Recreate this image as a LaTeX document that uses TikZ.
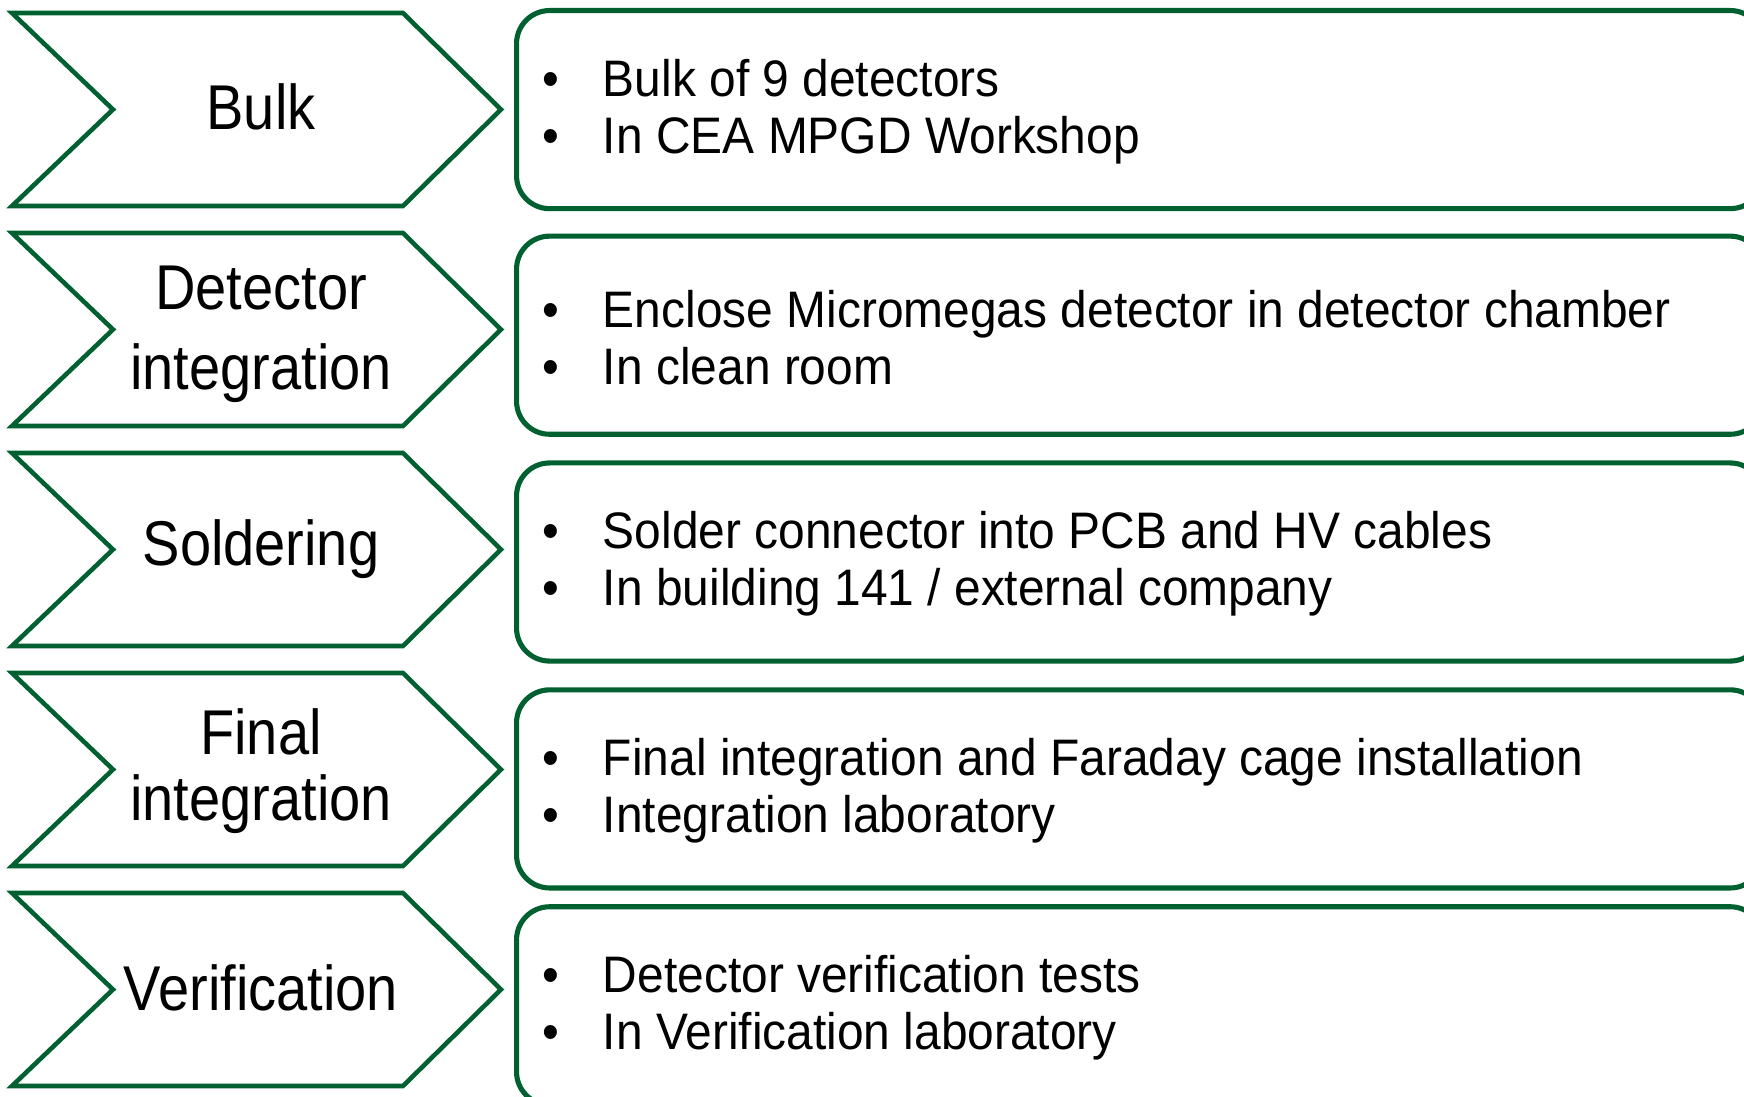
\documentclass[tikz,border=0pt]{standalone}
\usepackage{fontspec}
\setmainfont{Liberation Sans}[FakeStretch=0.933]
\newfontfamily\stagefont{Liberation Sans}[FakeStretch=0.885]
\usetikzlibrary{positioning}
\definecolor{stagegreen}{RGB}{0,96,48}
% one bullet line of a step description
\newcommand\itm[1]{\makebox[0.605cm][l]{\textbullet}#1}
\begin{document}
\begin{tikzpicture}[
        x=0.01cm, y=-0.01cm,
        chev/.style={draw=stagegreen, line width=1.3pt, line join=miter},
        stage/.style={align=center, font=\stagefont\fontsize{18}{22.8}\selectfont},
        info/.style={draw=stagegreen, line width=1.45pt, rounded corners=0.33cm,
            minimum width=12.46cm, minimum height=1.98cm, anchor=north west},
        items/.style={anchor=west, align=left, font=\fontsize{14.6}{16.2}\selectfont}
    ]
        \useasboundingbox (0,0) rectangle (1744,1097);
        \clip (0,0) rectangle (1744,1097);

        % Process steps as chevrons
        \draw[chev] (12,13) -- (403,13) -- (501,109.5) -- (403,206) -- (12,206) -- (113,109.5) -- cycle;
        \draw[chev] (12,233) -- (403,233) -- (501,329.5) -- (403,426) -- (12,426) -- (113,329.5) -- cycle;
        \draw[chev] (12,453) -- (403,453) -- (501,549.5) -- (403,646) -- (12,646) -- (113,549.5) -- cycle;
        \draw[chev] (12,673) -- (403,673) -- (501,769.5) -- (403,866) -- (12,866) -- (113,769.5) -- cycle;
        \draw[chev] (12,893) -- (403,893) -- (501,989.5) -- (403,1086) -- (12,1086) -- (113,989.5) -- cycle;

        \node[stage] (s1) at (261,107) {Bulk};
        \node[stage] (s2) at (261,334) {Detector\\integration};
        \node[stage] (s3) at (261,549) {Soldering};
        \node[stage] (s4) at (261,771) {Final\\[-4pt]integration};
        \node[stage] (s5) at (261,988) {Verification};

        % Description boxes, running off the right edge
        \node[info] (b1) at (514,8) {};
        \node[info] (b2) at (514,233.6) {};
        \node[info] (b3) at (514,460.4) {};
        \node[info] (b4) at (514,687.3) {};
        \node[info] (b5) at (514,904.2) {};

        \node[items, right=0.16cm of b1.west, yshift=-0.02cm] (t1) {\itm{Bulk of 9 detectors}\\\itm{In CEA MPGD Workshop}};
        \node[items, right=0.16cm of b2.west, yshift=-0.02cm] (t2) {\itm{Enclose Micromegas detector in detector chamber}\\\itm{In clean room}};
        \node[items, right=0.16cm of b3.west, yshift=-0.02cm] (t3) {\itm{Solder connector into PCB and HV cables}\\\itm{In building 141 / external company}};
        \node[items, right=0.16cm of b4.west, yshift=-0.02cm] (t4) {\itm{Final integration and Faraday cage installation}\\\itm{Integration laboratory}};
        \node[items, right=0.16cm of b5.west, yshift=-0.02cm] (t5) {\itm{Detector verification tests}\\\itm{In Verification laboratory}};
    \end{tikzpicture}
\end{document}
